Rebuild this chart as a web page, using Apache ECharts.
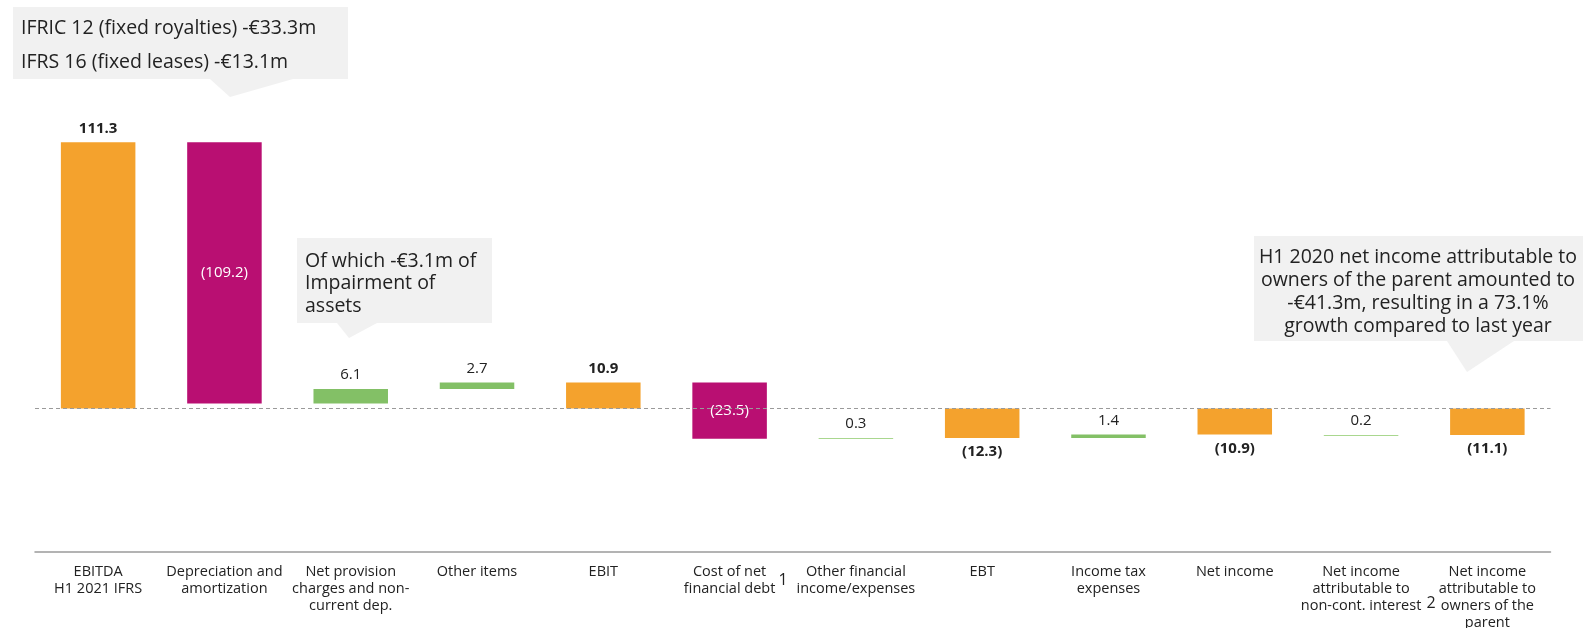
<!DOCTYPE html>
<html>
<head>
<meta charset="utf-8">
<script src="https://cdn.jsdelivr.net/npm/echarts@6/dist/echarts.min.js"></script>
<style>
html,body{margin:0;padding:0;background:#fff;}
#chart{width:1584px;height:628px;}
</style>
</head>
<body>
<div id="chart"></div>
<script>
// ---- data ----
const categories = [
  'EBITDA\nH1 2021 IFRS',
  'Depreciation and\namortization',
  'Net provision\ncharges and non-\ncurrent dep.',
  'Other items',
  'EBIT',
  'Cost of net\nfinancial debt',
  'Other financial\nincome/expenses',
  'EBT',
  'Income tax\nexpenses',
  'Net income',
  'Net income\nattributable to\nnon-cont. interest',
  'Net income\nattributable to\nowners of the\nparent'
];
// signed movement (totals are the level itself)
const values = [111.3, -109.2, 6.1, 2.7, 10.9, -23.5, 0.3, -12.3, 1.4, -10.9, -0.2, -11.1];
const kinds  = ['total','decrease','increase','increase','total','decrease','increase','total','increase','total','increase','total'];
const valueLabels = ['111.3','(109.2)','6.1','2.7','10.9','(23.5)','0.3','(12.3)','1.4','(10.9)','0.2','(11.1)'];
const footnotes = [
  {text: '1', x: 783, y: 580},
  {text: '2', x: 1431, y: 603}
];
const notes = [
  ['IFRIC 12 (fixed royalties) -€33.3m', 'IFRS 16 (fixed leases) -€13.1m'],
  ['Of which -€3.1m of', 'Impairment of', 'assets'],
  ['H1 2020 net income attributable to', 'owners of the parent amounted to', '-€41.3m, resulting in a 73.1%', 'growth compared to last year']
];

// ---- build waterfall spans ----
const spans = [];
let level = 0;
values.forEach((v, i) => {
  if (kinds[i] === 'total') {
    spans.push([i, 0, v]);
    level = v;
  } else {
    spans.push([i, level, level + v]);
    level = level + v;
  }
});

const COLORS = {total: '#F4A22D', decrease: '#B90F72', increase: '#83C066'};
const FONT = '"Open Sans", "Noto Sans", sans-serif';

function renderItem(params, api) {
  const i = api.value(0);
  const s = api.value(1);
  const e = api.value(2);
  const p1 = api.coord([i, s]);
  const p2 = api.coord([i, e]);
  const w = api.size([1, 0])[0] * 0.59;
  let top = Math.min(p1[1], p2[1]);
  const bot = Math.max(p1[1], p2[1]);
  let h = bot - top;
  if (h < 1) { top = Math.round(top); h = 1; }
  const kind = kinds[params.dataIndex];
  const lbl = valueLabels[params.dataIndex];
  const cx = p1[0];
  const children = [{
    type: 'rect',
    shape: {x: cx - w / 2, y: top, width: w, height: h},
    style: {fill: h <= 1 ? '#A9D78F' : COLORS[kind]}
  }];
  let ty, fill = '#222', weight = 'normal';
  if (kind === 'decrease') {
    ty = (top + bot) / 2; fill = '#fff';
  } else if (kind === 'total') {
    weight = 'bold';
    ty = e >= 0 ? top - 14 : bot + 14;
  } else {
    ty = top - 14;
  }
  children.push({
    type: 'text',
    style: {
      text: lbl, x: cx, y: ty, align: 'center', verticalAlign: 'middle',
      fill: fill, fontSize: 15, fontWeight: weight, fontFamily: FONT
    }
  });
  return {type: 'group', children: children};
}

// ---- callouts (annotation graphics) ----
const graphics = [];
function callout(box, tri, lines, tx, ty0, lh, align) {
  graphics.push({type: 'rect', shape: box, style: {fill: '#F1F1F1'}, z: 10});
  graphics.push({type: 'polygon', shape: {points: tri}, style: {fill: '#F1F1F1'}, z: 10});
  lines.forEach((t, k) => {
    graphics.push({
      type: 'text', z: 11,
      style: {text: t, x: tx, y: ty0 + k * lh, align: align, verticalAlign: 'middle',
              fill: '#222', fontSize: 19.5, fontFamily: FONT}
    });
  });
}
callout({x: 13, y: 7, width: 335, height: 72}, [[210, 79], [293, 79], [230, 97]], notes[0], 21, 28, 34, 'left');
callout({x: 297, y: 238, width: 195, height: 85}, [[337, 323], [377, 323], [349, 338]], notes[1], 305, 261, 22.5, 'left');
callout({x: 1254, y: 236, width: 329, height: 105}, [[1447, 341], [1514, 341], [1467, 372]], notes[2], 1418, 257, 23.2, 'center');
footnotes.forEach(f => {
  graphics.push({type: 'text', style: {text: f.text, x: f.x, y: f.y, align: 'center', verticalAlign: 'middle',
    fill: '#222', fontSize: 16, fontFamily: FONT}});
});

const chart = echarts.init(document.getElementById('chart'));
chart.setOption({
  animation: false,
  backgroundColor: '#fff',
  grid: {left: 35, right: 33.5, top: 121.5, bottom: 76, containLabel: false, outerBoundsMode: 'none'},
  xAxis: {
    type: 'category',
    data: categories,
    axisLine: {show: true, onZero: false, lineStyle: {color: '#9a9a9a', width: 1.5}},
    axisTick: {show: false},
    axisLabel: {color: '#222', fontSize: 14.5, lineHeight: 17.2, margin: 11, fontFamily: FONT, interval: 0}
  },
  yAxis: {
    type: 'value', min: -60, max: 120,
    show: false, splitLine: {show: false}
  },
  series: [{
    type: 'custom',
    renderItem: renderItem,
    encode: {x: 0, y: [1, 2]},
    data: spans,
    markLine: {
      silent: true, symbol: 'none', label: {show: false},
      lineStyle: {color: '#9a9a9a', type: [4, 3], width: 1},
      data: [{yAxis: 0}]
    }
  }],
  graphic: graphics
});
</script>
</body>
</html>
